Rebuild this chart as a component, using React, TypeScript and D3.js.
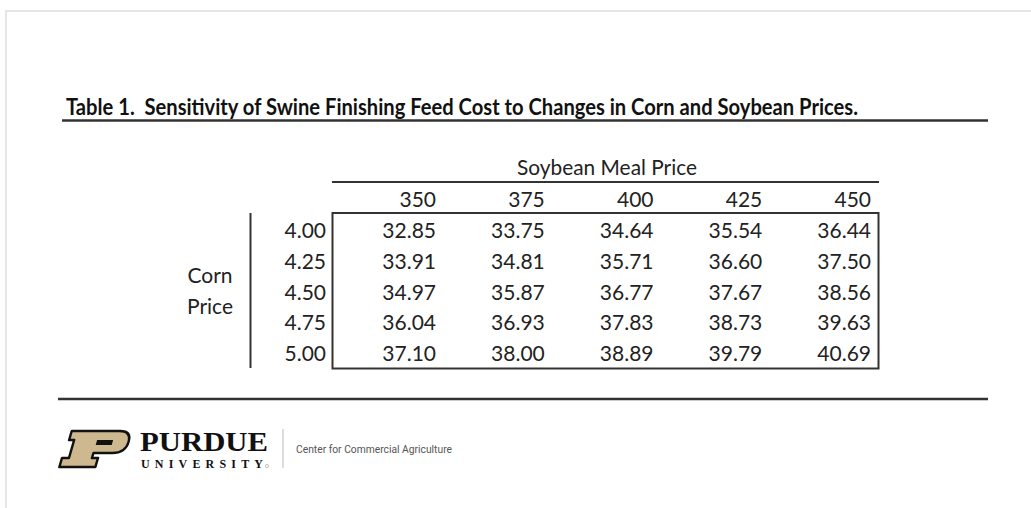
import React from "react";
import * as d3 from "d3";

const titleText = "Table 1.  Sensitivity of Swine Finishing Feed Cost to Changes in Corn and Soybean Prices.";
const columnGroupLabel = "Soybean Meal Price";
const rowGroupLabel = ["Corn", "Price"];
const soyPrices = ["350", "375", "400", "425", "450"];
const cornPrices = ["4.00", "4.25", "4.50", "4.75", "5.00"];
const row400 = [32.85, 33.75, 34.64, 35.54, 36.44];
const row425 = [33.91, 34.81, 35.71, 36.6, 37.5];
const row450 = [34.97, 35.87, 36.77, 37.67, 38.56];
const row475 = [36.04, 36.93, 37.83, 38.73, 39.63];
const row500 = [37.1, 38.0, 38.89, 39.79, 40.69];
const costs = [row400, row425, row450, row475, row500];
const brandName = "PURDUE";
const brandSub = "UNIVERSITY";
const unitName = "Center for Commercial Agriculture";

const W = 1031;
const H = 508;
const FONT = "Lato, 'Open Sans', sans-serif";
const TXT = "#222";
const LINE = "#333";

export default function App() {
  const x = d3.scalePoint<string>().domain(soyPrices).range([436, 871]);
  const y = d3.scalePoint<string>().domain(cornPrices).range([238, 361]);
  const fmt = d3.format(".2f");

  return (
    <svg
      width={W}
      height={H}
      viewBox={`0 0 ${W} ${H}`}
      style={{ position: "absolute", left: 0, top: 0, background: "#fff" }}
    >
      <rect x={0} y={0} width={W} height={H} fill="#fff" />
      {/* page frame */}
      <line x1={5} y1={11} x2={W} y2={11} stroke="#e6e6e6" strokeWidth={2} />
      <line x1={6} y1={10} x2={6} y2={H} stroke="#e6e6e6" strokeWidth={2} />

      {/* title */}
      <text
        x={66}
        y={115}
        fontFamily={FONT}
        fontWeight={700}
        fontSize={22}
        fill="#111"
        textLength={792}
        lengthAdjust="spacingAndGlyphs"
        xmlSpace="preserve"
      >
        {titleText}
      </text>
      <line x1={62} y1={120.5} x2={988} y2={120.5} stroke={LINE} strokeWidth={2.5} />

      {/* column group header */}
      <text
        x={607}
        y={175}
        textAnchor="middle"
        fontFamily={FONT}
        fontSize={20.5}
        fill={TXT}
        textLength={180}
        lengthAdjust="spacingAndGlyphs"
      >
        {columnGroupLabel}
      </text>
      <line x1={332} y1={182} x2={879} y2={182} stroke={LINE} strokeWidth={2} />

      {soyPrices.map((s) => (
        <text
          key={s}
          x={x(s)}
          y={207}
          textAnchor="end"
          fontFamily={FONT}
          fontSize={21}
          fill={TXT}
        >
          {s}
        </text>
      ))}

      {/* box */}
      <rect x={332.5} y={213} width={546} height={155.5} fill="none" stroke={LINE} strokeWidth={2} />

      {/* row group label */}
      <line x1={250.5} y1={213} x2={250.5} y2={368} stroke={LINE} strokeWidth={2} />
      {rowGroupLabel.map((t, i) => (
        <text
          key={t}
          x={210}
          y={283 + i * 31}
          textAnchor="middle"
          fontFamily={FONT}
          fontSize={21}
          fill={TXT}
        >
          {t}
        </text>
      ))}

      {cornPrices.map((c, ri) => (
        <g key={c}>
          <text x={326} y={y(c)} textAnchor="end" fontFamily={FONT} fontSize={21} fill={TXT}>
            {c}
          </text>
          {costs[ri].map((v, ci) => (
            <text
              key={ci}
              x={x(soyPrices[ci])}
              y={y(c)}
              textAnchor="end"
              fontFamily={FONT}
              fontSize={21}
              fill={TXT}
            >
              {fmt(v)}
            </text>
          ))}
        </g>
      ))}

      {/* bottom rule */}
      <line x1={58} y1={399} x2={988} y2={399} stroke={LINE} strokeWidth={2.5} />

      {/* logo */}
      <g transform="translate(66,430) skewX(-16)">
        <path
          d="M 6,1 L 54,1 Q 66,1 66,12 Q 66,23 53,23 L 34,23 L 34,28 L 40,28 L 40,37 L 4,37 L 4,28 L 11,28 L 11,10 L 6,10 Z"
          fill="#CDB88F"
          stroke="#111"
          strokeWidth={2.5}
          strokeLinejoin="round"
        />
        <rect x={34} y={10} width={16} height={5} fill="#111" />
      </g>
      <text
        x={140}
        y={451}
        fontFamily="'Liberation Serif', 'DejaVu Serif', serif"
        fontWeight={700}
        fontSize={27}
        fill="#111"
        textLength={128}
        lengthAdjust="spacingAndGlyphs"
      >
        {brandName}
      </text>
      <text
        x={141}
        y={468}
        fontFamily="'Liberation Serif', 'DejaVu Serif', serif"
        fontWeight={700}
        fontSize={12}
        fill="#111"
        textLength={122}
        lengthAdjust="spacing"
      >
        {brandSub}
      </text>
      <circle cx={267} cy={466} r={1.6} fill="none" stroke="#999" strokeWidth={0.6} />
      <line x1={283} y1={429} x2={283} y2={468} stroke="#bbb" strokeWidth={1} />
      <text
        x={296}
        y={453}
        fontFamily="Roboto, 'Open Sans', sans-serif"
        fontSize={11.5}
        fill="#555"
        textLength={156}
        lengthAdjust="spacingAndGlyphs"
      >
        {unitName}
      </text>
    </svg>
  );
}
